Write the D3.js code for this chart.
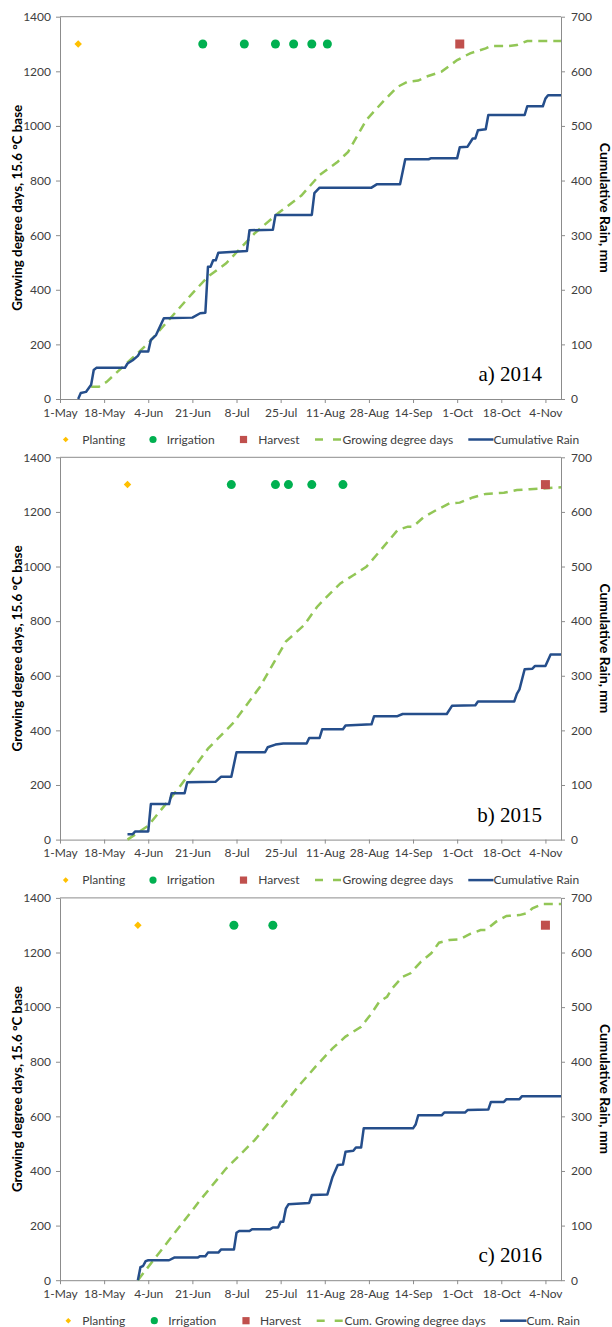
<!DOCTYPE html>
<html>
<head>
<meta charset="utf-8">
<script src="https://cdn.jsdelivr.net/npm/d3@7"></script>
<style>
    body { margin: 0; background: #fff; }
    text { font-family: Lato, "Noto Sans", sans-serif; fill: #404040; }
</style>
</head>
<body>
<svg id="chart"></svg>
<script>
// ---- data (dates as month-day, year added per panel) ----
var years = [2014, 2015, 2016];
var panelLabels = ["a) 2014", "b) 2015", "c) 2016"];
var xTickDates = ["05-01", "05-18", "06-04", "06-21", "07-08", "07-25", "08-11", "08-28", "09-14", "10-01", "10-18", "11-04"];
var gddTicks = [0, 200, 400, 600, 800, 1000, 1200, 1400];
var rainTicks = [0, 100, 200, 300, 400, 500, 600, 700];
var legendNamesAB = ["Planting", "Irrigation", "Harvest", "Growing degree days", "Cumulative Rain"];
var legendNamesC = ["Planting", "Irrigation", "Harvest", "Cum. Growing degree days", "Cum. Rain"];

var planting = ["05-08", "05-27", "05-31"];
var irrigation2014 = ["06-25", "07-11", "07-23", "07-30", "08-06", "08-12"];
var irrigation2015 = ["07-06", "07-23", "07-28", "08-06", "08-18"];
var irrigation2016 = ["07-07", "07-22"];
var harvest = ["10-02", "11-04", "11-04"];
var markerLevel = 1300;

var rain2014 = [["05-08",0],["05-09",11],["05-11",13],["05-13",26],["05-14",53],["05-15",57],["05-26",57],["05-27",65],
    ["05-29",71],["05-31",79],["06-01",87],["06-04",87],["06-05",108],["06-07",117],["06-10",148],["06-21",149],
    ["06-24",157],["06-26",158],["06-27",242],["06-28",242],["06-29",254],["06-30",254],["07-01",268],["07-12",271],
    ["07-13",309],["07-22",310],["07-23",337],["08-06",337],["08-07",377],["08-09",387],["08-29",387],["08-31",393],
    ["09-09",393],["09-11",439],["09-20",439],["09-21",441],["10-01",441],["10-02",461],["10-05",462],["10-07",477],
    ["10-08",477],["10-09",492],["10-12",494],["10-13",520],["10-27",520],["10-28",536],["11-03",536],["11-04",550],
    ["11-05",556],["11-10",556]];
var gdd2014 = [["05-13",45],["05-16",45],["05-19",63],["06-04",204],["06-21",387],["06-27",448],["07-04",497],
    ["07-15",607],["07-24",680],["08-02",745],["08-09",820],["08-16",869],["08-20",905],["08-27",1022],["09-03",1095],
    ["09-08",1143],["09-12",1162],["09-16",1166],["09-19",1180],["09-25",1199],["10-01",1241],["10-06",1266],
    ["10-12",1284],["10-14",1293],["10-21",1293],["10-24",1296],["10-28",1311],["11-10",1311]];

var rain2015 = [["05-27",10],["05-29",10],["05-30",15],["06-04",15],["06-05",65],["06-12",65],["06-13",85],["06-18",85],
    ["06-19",105],["06-30",106],["07-02",115],["07-06",115],["07-08",160],["07-19",160],["07-20",169],["07-23",174],
    ["07-26",176],["08-04",176],["08-05",186],["08-09",186],["08-10",202],["08-18",202],["08-19",209],["08-29",211],
    ["08-30",226],["09-08",226],["09-10",230],["09-27",230],["09-29",245],["10-08",246],["10-09",253],["10-23",253],
    ["10-24",267],["10-25",275],["10-27",312],["10-30",313],["10-31",318],["11-04",318],["11-06",339],["11-10",339]];
var gdd2015 = [["05-27",0],["06-04",51],["06-16",192],["06-27",333],["07-07",430],["07-17",559],["07-27",725],
    ["08-03",785],["08-08",852],["08-13",901],["08-17",938],["08-22",968],["08-27",999],["09-01",1054],["09-08",1133],
    ["09-12",1146],["09-14",1146],["09-18",1180],["09-23",1207],["09-28",1231],["10-02",1234],["10-07",1253],
    ["10-12",1266],["10-19",1270],["10-24",1280],["10-29",1283],["11-03",1286],["11-10",1290]];

var rain2016 = [["05-31",0],["06-01",24],["06-02",26],["06-03",35],["06-04",36.5],["06-12",36.5],["06-14",41.5],
    ["06-23",41.5],["06-24",44],["06-26",44],["06-27",50.5],["07-01",50.5],["07-02",56],["07-07",56],["07-08",87],
    ["07-09",90],["07-13",90],["07-14",93.5],["07-21",93.5],["07-22",96.5],["07-24",96.5],["07-25",107],["07-26",107],
    ["07-27",131],["07-28",139],["08-05",141.5],["08-06",156],["08-12",157],["08-14",189],["08-16",211],["08-18",212],
    ["08-19",235],["08-22",237],["08-23",243],["08-25",243],["08-26",278],["09-14",278],["09-15",285],["09-16",302],
    ["09-25",302],["09-26",307],["10-04",307],["10-05",311.5],["10-13",312.5],["10-14",326.5],["10-19",326.5],
    ["10-20",331.5],["10-25",331.5],["10-26",337],["11-10",337]];
var gdd2016 = [["05-31",0],["06-14",171],["06-24",293],["07-04",409],["07-15",513],["07-25",629],["08-01",712],
    ["08-08",788],["08-14",849],["08-19",892],["08-25",928],["08-29",977],["09-01",1020],["09-04",1038],["09-06",1069],
    ["09-10",1111],["09-13",1124],["09-17",1166],["09-21",1197],["09-24",1236],["09-28",1246],["10-02",1248],
    ["10-06",1268],["10-10",1282],["10-12",1282],["10-16",1313],["10-20",1334],["10-25",1337],["10-28",1344],
    ["10-30",1362],["11-03",1378],["11-10",1378]];

var rainSeries = [rain2014, rain2015, rain2016];
var gddSeries = [gdd2014, gdd2015, gdd2016];
var irrigationSeries = [irrigation2014, irrigation2015, irrigation2016];

// ---- layout ----
var W = 612, H = 1327,
    LEFT = 60, RIGHT = 561,
    TOP = 16.7, PANEL_STEP = 440.6, PLOT_H = 382.3;

var colors = {
    planting: "#FFC000",
    irrigation: "#00B050",
    harvest: "#C0504D",
    gdd: "#92C656",
    rain: "#254E8B",
    axis: "#8C8C8C"
};

var parse = d3.timeParse("%Y-%m-%d");
var fmt = d3.timeFormat("%-d-%b");

var svg = d3.select("#chart").attr("width", W).attr("height", H);

function day(year, md) { return parse(year + "-" + md); }

function DrawPanel(i) {
    var year = years[i],
        top = TOP + PANEL_STEP * i,
        bottom = top + PLOT_H;

    var x = d3.scaleTime()
        .domain([day(year, "05-01"), day(year, "11-10")])
        .range([LEFT, RIGHT]);
    var yG = d3.scaleLinear().domain([0, 1400]).range([bottom, top]);
    var yR = d3.scaleLinear().domain([0, 700]).range([bottom, top]);

    var g = svg.append("g");

    // top border
    g.append("line")
        .attr("x1", LEFT).attr("x2", RIGHT)
        .attr("y1", top).attr("y2", top)
        .style("stroke", colors.axis);

    var xAxis = g.append("g")
        .attr("transform", "translate(0," + bottom + ")")
        .call(d3.axisBottom(x)
            .tickValues(xTickDates.map(function(d) { return day(year, d); }))
            .tickFormat(fmt)
            .tickSize(4).tickSizeOuter(0));
    var lAxis = g.append("g")
        .attr("transform", "translate(" + LEFT + ",0)")
        .call(d3.axisLeft(yG).tickValues(gddTicks).tickFormat(d3.format("d"))
            .tickSize(4).tickSizeOuter(0));
    var rAxis = g.append("g")
        .attr("transform", "translate(" + RIGHT + ",0)")
        .call(d3.axisRight(yR).tickValues(rainTicks).tickFormat(d3.format("d"))
            .tickSize(4).tickSizeOuter(0));

    [xAxis, lAxis, rAxis].forEach(function(a) {
        a.selectAll("path, line").style("stroke", colors.axis);
        a.selectAll("text").style("font-size", "12px").style("fill", "#404040")
            .style("font-family", "Lato, 'Noto Sans', sans-serif");
    });
    xAxis.selectAll("text").attr("dy", "0.71em").attr("y", 9);
    lAxis.selectAll("text").attr("x", -9);
    rAxis.selectAll("text").attr("x", 10);

    // axis titles
    g.append("text")
        .attr("transform", "translate(21.5," + (top + PLOT_H / 2) + ") rotate(-90)")
        .attr("text-anchor", "middle")
        .attr("textLength", 206).attr("lengthAdjust", "spacingAndGlyphs")
        .style("font-size", "12.5px").style("font-weight", "bold").style("fill", "#000")
        .text("Growing degree days, 15.6 °C base");
    g.append("text")
        .attr("transform", "translate(600," + (top + PLOT_H / 2) + ") rotate(90)")
        .attr("text-anchor", "middle")
        .attr("textLength", 130).attr("lengthAdjust", "spacingAndGlyphs")
        .style("font-size", "12.5px").style("font-weight", "bold").style("fill", "#000")
        .text("Cumulative Rain, mm");

    // GDD dashed
    g.append("path")
        .datum(gddSeries[i])
        .attr("d", d3.line()
            .x(function(d) { return x(day(year, d[0])); })
            .y(function(d) { return yG(d[1]); }))
        .style("fill", "none")
        .style("stroke", colors.gdd)
        .style("stroke-width", 2.5)
        .style("stroke-dasharray", "9,6");

    // cumulative rain
    g.append("path")
        .datum(rainSeries[i])
        .attr("d", d3.line()
            .x(function(d) { return x(day(year, d[0])); })
            .y(function(d) { return yR(d[1]); }))
        .style("fill", "none")
        .style("stroke", colors.rain)
        .style("stroke-width", 2.5)
        .style("stroke-linejoin", "round");

    // markers
    g.append("path")
        .attr("d", d3.symbol().type(d3.symbolDiamond2).size(36)())
        .attr("transform", "translate(" + x(day(year, planting[i])) + "," + yG(markerLevel) + ")")
        .style("fill", colors.planting);
    g.selectAll(".irr")
        .data(irrigationSeries[i])
        .enter().append("circle")
        .attr("cx", function(d) { return x(day(year, d)); })
        .attr("cy", yG(markerLevel))
        .attr("r", 4.5)
        .style("fill", colors.irrigation);
    g.append("rect")
        .attr("x", x(day(year, harvest[i])) - 4.5)
        .attr("y", yG(markerLevel) - 4.5)
        .attr("width", 9).attr("height", 9)
        .style("fill", colors.harvest);

    // panel label
    g.append("text")
        .attr("x", 542).attr("y", bottom - 18)
        .attr("text-anchor", "end")
        .style("font-family", "'Liberation Serif', 'Times New Roman', serif")
        .style("font-size", "21px").style("fill", "#000")
        .text(panelLabels[i]);

    DrawLegend(i, bottom + 40.5);
}

function DrawLegend(i, ly) {
    var names = i === 2 ? legendNamesC : legendNamesAB;
    var pos = i === 2
        ? { sym: [68.3, 154.3, 246], txt: [82.3, 168.3, 260], gdd: [316.7, 344.5], rain: [500, 526.5] }
        : { sym: [65.7, 153, 243.5], txt: [82.3, 166.7, 258.3], gdd: [315, 342.5], rain: [468.3, 493.5] };
    var lg = svg.append("g").style("font-size", "12px");

    lg.append("path")
        .attr("d", d3.symbol().type(d3.symbolDiamond2).size(20)())
        .attr("transform", "translate(" + pos.sym[0] + "," + ly + ")")
        .style("fill", colors.planting);
    lg.append("circle").attr("cx", pos.sym[1]).attr("cy", ly).attr("r", 3.6)
        .style("fill", colors.irrigation);
    lg.append("rect").attr("x", pos.sym[2] - 3.6).attr("y", ly - 3.6)
        .attr("width", 7.2).attr("height", 7.2)
        .style("fill", colors.harvest);
    lg.append("line").attr("x1", pos.gdd[0]).attr("x2", pos.gdd[1])
        .attr("y1", ly).attr("y2", ly)
        .style("stroke", colors.gdd).style("stroke-width", 2.5).style("stroke-dasharray", "8,10");
    lg.append("line").attr("x1", pos.rain[0]).attr("x2", pos.rain[1])
        .attr("y1", ly).attr("y2", ly)
        .style("stroke", colors.rain).style("stroke-width", 2.5);

    var tx = pos.txt.concat([pos.gdd[1], pos.rain[1]]);
    for (var k = 0; k < names.length; k++) {
        lg.append("text")
            .attr("x", tx[k])
            .attr("y", ly + 4)
            .style("fill", "#404040")
            .text(names[k]);
    }
}

for (var i = 0; i < years.length; i++) {
    DrawPanel(i);
}
</script>
</body>
</html>
